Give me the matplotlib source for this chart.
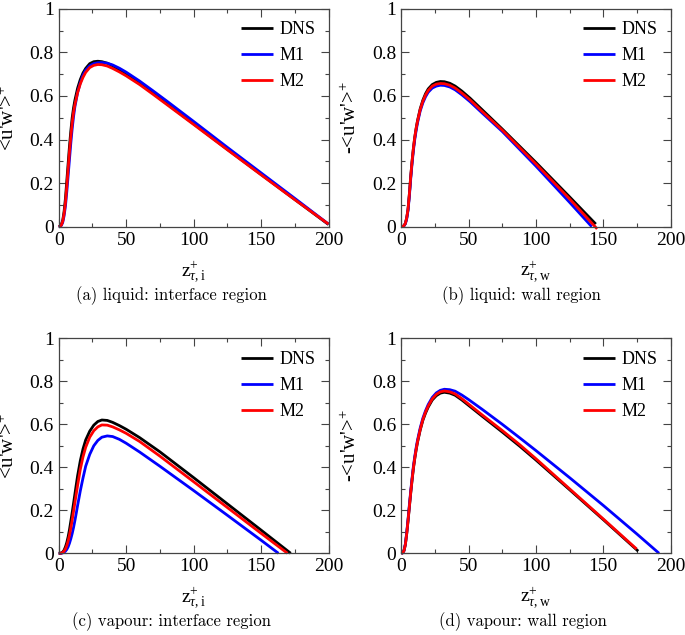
import matplotlib
matplotlib.use("Agg")
import matplotlib.pyplot as plt
from matplotlib.ticker import MultipleLocator

plt.rcParams['font.family'] = ['Liberation Serif', 'DejaVu Serif']
plt.rcParams['mathtext.fontset'] = 'custom'
plt.rcParams['mathtext.rm'] = 'Liberation Serif'
plt.rcParams['mathtext.it'] = 'Liberation Serif:italic'
plt.rcParams['mathtext.bf'] = 'Liberation Serif:bold'

# ---------------- data ----------------
# (a) liquid: interface region
z_a = [0, 1, 2, 3, 4, 5, 6, 7, 8, 9, 10, 11, 12, 14, 16, 18, 20, 23, 26, 29, 32, 36, 40, 45, 50, 60, 70, 80, 100, 125, 150, 175, 200]
dns_a = [0, 0.002, 0.01, 0.03, 0.07, 0.13, 0.21, 0.29, 0.37, 0.44, 0.50, 0.545, 0.58, 0.635, 0.675, 0.705, 0.726, 0.748, 0.757, 0.759, 0.757, 0.750, 0.738, 0.72, 0.70, 0.658, 0.612, 0.565, 0.472, 0.355, 0.24, 0.125, 0.01]
m1_a = [0, 0.001, 0.006, 0.02, 0.05, 0.095, 0.16, 0.235, 0.31, 0.385, 0.45, 0.505, 0.55, 0.615, 0.66, 0.695, 0.718, 0.738, 0.748, 0.752, 0.753, 0.75, 0.742, 0.727, 0.709, 0.668, 0.623, 0.577, 0.483, 0.364, 0.247, 0.13, 0.012]
m2_a = [0, 0.002, 0.008, 0.025, 0.06, 0.11, 0.185, 0.265, 0.345, 0.415, 0.475, 0.525, 0.56, 0.615, 0.655, 0.685, 0.708, 0.73, 0.74, 0.744, 0.743, 0.737, 0.726, 0.71, 0.692, 0.652, 0.607, 0.561, 0.469, 0.353, 0.238, 0.124, 0.012]

# (b) liquid: wall region
z_b_dns = [0, 1, 2, 3, 4, 5, 6, 7, 8, 9, 10, 11, 12, 14, 16, 18, 20, 23, 26, 29, 32, 36, 40, 45, 51, 60, 75, 100, 125, 144.5]
dns_b = [0, 0.001, 0.005, 0.015, 0.04, 0.08, 0.15, 0.23, 0.30, 0.36, 0.41, 0.45, 0.485, 0.54, 0.58, 0.61, 0.632, 0.652, 0.662, 0.666, 0.665, 0.658, 0.645, 0.622, 0.59, 0.537, 0.448, 0.295, 0.137, 0.012]
z_b_m1 = [0, 1, 2, 3, 4, 5, 6, 7, 8, 9, 10, 11, 12, 14, 16, 18, 20, 23, 26, 29, 32, 36, 40, 45, 51, 60, 75, 100, 125, 141.5]
m1_b = [0, 0.001, 0.004, 0.013, 0.035, 0.075, 0.14, 0.22, 0.29, 0.35, 0.40, 0.44, 0.475, 0.53, 0.568, 0.596, 0.617, 0.636, 0.645, 0.649, 0.648, 0.641, 0.628, 0.605, 0.574, 0.522, 0.437, 0.278, 0.112, 0.0]
z_b_m2 = [0, 1, 2, 3, 4, 5, 6, 7, 8, 9, 10, 11, 12, 14, 16, 18, 20, 23, 26, 29, 32, 36, 40, 45, 51, 60, 75, 100, 125, 145.5]
m2_b = [0, 0.001, 0.005, 0.015, 0.04, 0.08, 0.15, 0.23, 0.30, 0.36, 0.41, 0.45, 0.482, 0.536, 0.575, 0.604, 0.625, 0.645, 0.654, 0.657, 0.656, 0.649, 0.636, 0.613, 0.582, 0.529, 0.443, 0.288, 0.128, -0.01]

# (c) vapour: interface region
z_c_base = [0, 1, 2, 3, 4, 5, 6, 7, 8, 9, 10, 11, 12, 13, 14, 16, 18, 20, 23, 26, 29, 32, 36, 40, 45, 50, 60, 75, 100, 125, 150]
z_c_dns = z_c_base + [172]
dns_c = [0, 0.0, 0.002, 0.006, 0.015, 0.03, 0.05, 0.077, 0.11, 0.15, 0.19, 0.232, 0.275, 0.318, 0.36, 0.43, 0.485, 0.527, 0.568, 0.596, 0.613, 0.62, 0.618, 0.609, 0.594, 0.577, 0.538, 0.472, 0.352, 0.23, 0.108, 0.0]
z_c_m1 = z_c_base + [162.9]
m1_c = [0, 0, 0, 0.002, 0.005, 0.01, 0.018, 0.03, 0.047, 0.068, 0.092, 0.12, 0.152, 0.186, 0.222, 0.29, 0.35, 0.405, 0.46, 0.5, 0.525, 0.54, 0.546, 0.543, 0.53, 0.512, 0.471, 0.405, 0.292, 0.177, 0.061, 0.0]
z_c_m2 = z_c_base + [169.6]
m2_c = [0, 0, 0.001, 0.004, 0.01, 0.02, 0.036, 0.058, 0.085, 0.118, 0.155, 0.195, 0.235, 0.275, 0.315, 0.39, 0.448, 0.493, 0.54, 0.57, 0.588, 0.597, 0.596, 0.588, 0.574, 0.558, 0.52, 0.452, 0.333, 0.213, 0.093, 0.0]

# (d) vapour: wall region
z_d_base = [0, 1, 2, 3, 4, 5, 6, 7, 8, 9, 10, 11, 12, 14, 16, 18, 20, 23, 26, 29, 32, 36, 40, 45, 50, 60, 75, 88, 100, 125, 150]
z_d_dns = z_d_base + [176]
dns_d = [0, 0.002, 0.012, 0.04, 0.09, 0.15, 0.215, 0.28, 0.34, 0.395, 0.44, 0.48, 0.515, 0.572, 0.618, 0.652, 0.68, 0.713, 0.733, 0.745, 0.749, 0.745, 0.735, 0.713, 0.688, 0.638, 0.564, 0.498, 0.434, 0.296, 0.157, 0.01]
z_d_m1 = z_d_base + [175, 191.5]
m1_d = [0, 0.002, 0.013, 0.043, 0.095, 0.158, 0.225, 0.29, 0.35, 0.405, 0.45, 0.49, 0.525, 0.582, 0.628, 0.663, 0.692, 0.725, 0.746, 0.758, 0.763, 0.761, 0.754, 0.736, 0.715, 0.67, 0.6, 0.537, 0.478, 0.352, 0.223, 0.09, 0.0]
z_d_m2 = z_d_base + [174.8]
m2_d = [0, 0.002, 0.012, 0.04, 0.09, 0.152, 0.218, 0.283, 0.343, 0.398, 0.443, 0.483, 0.518, 0.575, 0.622, 0.657, 0.685, 0.718, 0.739, 0.751, 0.755, 0.751, 0.741, 0.719, 0.694, 0.644, 0.571, 0.505, 0.44, 0.3, 0.16, 0.02]

labels = ["DNS", "M1", "M2"]
colors = ["black", "blue", "red"]

panels = [
    dict(series=[(z_a, dns_a), (z_a, m1_a), (z_a, m2_a)], ylabel="<u'w'>$^{+}$",
         xlabel=r"$\mathrm{z}^{+}_{\tau,\mathrm{i}}$", caption="(a) liquid: interface region"),
    dict(series=[(z_b_dns, dns_b), (z_b_m1, m1_b), (z_b_m2, m2_b)], ylabel="-<u'w'>$^{+}$",
         xlabel=r"$\mathrm{z}^{+}_{\tau,\mathrm{w}}$", caption="(b) liquid: wall region"),
    dict(series=[(z_c_dns, dns_c), (z_c_m1, m1_c), (z_c_m2, m2_c)], ylabel="<u'w'>$^{+}$",
         xlabel=r"$\mathrm{z}^{+}_{\tau,\mathrm{i}}$", caption="(c) vapour: interface region"),
    dict(series=[(z_d_dns, dns_d), (z_d_m1, m1_d), (z_d_m2, m2_d)], ylabel="-<u'w'>$^{+}$",
         xlabel=r"$\mathrm{z}^{+}_{\tau,\mathrm{w}}$", caption="(d) vapour: wall region"),
]

W, H = 685, 635
fig = plt.figure(figsize=(W / 100, H / 100), dpi=100)

# axes boxes in pixels: (left, right, top, bottom)
boxes = [(58.7, 328.5, 8.7, 226.7), (401.3, 670.5, 8.7, 226.7),
         (58.7, 328.5, 338.3, 553.3), (401.3, 670.5, 338.3, 553.3)]
cap_pos = [(171, 296), (521, 296), (171, 622), (523, 622)]

for p, (l, r, t, b), (cx, cy) in zip(panels, boxes, cap_pos):
    ax = fig.add_axes([l / W, 1 - b / H, (r - l) / W, (b - t) / H])
    for (zz, vv), c, lab in zip(p["series"], colors, labels):
        ax.plot(zz, vv, color=c, lw=2.0, label=lab, clip_on=False, solid_capstyle='butt')
    ax.set_xlim(0, 200)
    ax.set_ylim(0, 1)
    ax.xaxis.set_major_locator(MultipleLocator(50))
    ax.xaxis.set_minor_locator(MultipleLocator(25))
    ax.yaxis.set_minor_locator(MultipleLocator(0.1))
    ax.set_yticks([0, 0.2, 0.4, 0.6, 0.8, 1.0])
    ax.set_yticklabels(["0", "0.2", "0.4", "0.6", "0.8", "1"])
    ax.tick_params(which='both', direction='in', top=True, right=True, width=0.8, color='#444444')
    ax.tick_params(which='major', length=5.5, labelsize=14, pad=3.5)
    ax.tick_params(which='minor', length=3)
    for s in ax.spines.values():
        s.set_color('#444444')
        s.set_linewidth(0.9)
    ax.set_ylabel(p["ylabel"], fontsize=15)
    ax.yaxis.set_label_coords(-0.148, 0.5)
    ax.set_xlabel(p["xlabel"], fontsize=14)
    ax.xaxis.set_label_coords(0.5, -0.15)
    ax.legend(loc='upper right', frameon=False, fontsize=13, handlelength=1.75,
              handletextpad=0.4, labelspacing=0.5, borderaxespad=0.25, borderpad=0.45)
    fig.text(cx / W, 1 - cy / H, p["caption"], ha='center', va='center', fontsize=12,
             family=['cmr10', 'DejaVu Serif'])

fig.savefig("out.png", dpi=100)
